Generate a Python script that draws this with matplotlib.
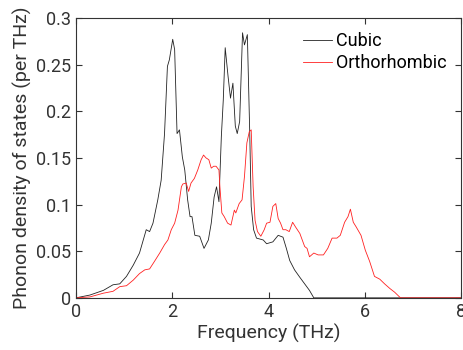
import numpy as np
import matplotlib

matplotlib.use("Agg")
import matplotlib.pyplot as plt

plt.rcParams["font.family"] = ["Roboto", "DejaVu Sans"]

# phonon DOS (THz, per THz)
cubic_freq = [0.0, 0.29, 0.57, 0.77, 0.91, 1.05, 1.19, 1.32, 1.46, 1.53, 1.60, 1.70,
              1.77, 1.84, 1.90, 1.94, 2.01, 2.05, 2.10, 2.15, 2.21, 2.26, 2.32, 2.37,
              2.41, 2.47, 2.57, 2.66, 2.75, 2.81, 2.87, 2.92, 2.97, 3.02, 3.06, 3.10,
              3.16, 3.21, 3.26, 3.31, 3.35, 3.40, 3.46, 3.50, 3.56, 3.61, 3.64, 3.69,
              3.75, 3.89, 3.96, 4.09, 4.20, 4.30, 4.37, 4.44, 4.54, 4.65, 4.75, 4.85,
              4.94, 8.0]
cubic_dos = [0.0, 0.003, 0.008, 0.014, 0.015, 0.023, 0.035, 0.048, 0.073, 0.071, 0.080, 0.105,
             0.126, 0.176, 0.248, 0.255, 0.277, 0.266, 0.176, 0.180, 0.151, 0.137, 0.105, 0.087,
             0.087, 0.067, 0.066, 0.053, 0.062, 0.080, 0.108, 0.119, 0.103, 0.173, 0.212, 0.268,
             0.237, 0.214, 0.230, 0.184, 0.176, 0.189, 0.284, 0.271, 0.282, 0.176, 0.098, 0.073,
             0.064, 0.062, 0.058, 0.060, 0.067, 0.065, 0.053, 0.040, 0.030, 0.022, 0.015, 0.008,
             0.0, 0.0]

ortho_freq = [0.0, 0.29, 0.57, 0.77, 0.91, 1.05, 1.19, 1.32, 1.43, 1.53, 1.63, 1.74,
              1.84, 1.91, 1.98, 2.05, 2.12, 2.19, 2.22, 2.29, 2.34, 2.39, 2.46, 2.53,
              2.60, 2.65, 2.70, 2.76, 2.81, 2.86, 2.91, 2.97, 2.99, 3.03, 3.08, 3.15,
              3.22, 3.29, 3.32, 3.39, 3.45, 3.50, 3.55, 3.60, 3.64, 3.68, 3.72, 3.77,
              3.84, 3.91, 3.96, 4.03, 4.09, 4.15, 4.20, 4.25, 4.30, 4.36, 4.43, 4.50,
              4.56, 4.65, 4.75, 4.80, 4.85, 4.94, 5.03, 5.14, 5.23, 5.32, 5.42, 5.49,
              5.58, 5.65, 5.70, 5.76, 5.82, 5.92, 6.01, 6.10, 6.20, 6.31, 6.41, 6.52,
              6.62, 6.74, 8.0]
ortho_dos = [0.0, 0.001, 0.005, 0.007, 0.012, 0.013, 0.019, 0.026, 0.030, 0.031, 0.039, 0.048,
             0.057, 0.062, 0.073, 0.080, 0.094, 0.119, 0.122, 0.123, 0.114, 0.123, 0.128, 0.137,
             0.148, 0.153, 0.150, 0.148, 0.139, 0.141, 0.141, 0.137, 0.119, 0.091, 0.087, 0.080,
             0.078, 0.094, 0.091, 0.101, 0.105, 0.130, 0.166, 0.178, 0.180, 0.119, 0.083, 0.071,
             0.066, 0.073, 0.080, 0.081, 0.098, 0.101, 0.085, 0.080, 0.073, 0.073, 0.071, 0.081,
             0.076, 0.069, 0.055, 0.053, 0.044, 0.048, 0.046, 0.046, 0.053, 0.064, 0.064, 0.067,
             0.081, 0.087, 0.095, 0.081, 0.076, 0.067, 0.051, 0.039, 0.023, 0.020, 0.015, 0.010,
             0.006, 0.0, 0.0]

x_ticks = [0, 2, 4, 6, 8]
y_ticks = [0, 0.05, 0.1, 0.15, 0.2, 0.25, 0.3]
y_tick_labels = ["0", "0.05", "0.1", "0.15", "0.2", "0.25", "0.3"]

fig = plt.figure(figsize=(4.63, 3.5), dpi=100)
ax = fig.add_axes([0.164, 0.149, 0.832, 0.800])

ax.plot(cubic_freq, cubic_dos, color="#222222", lw=0.6, label="Cubic")
ax.plot(ortho_freq, ortho_dos, color="#ff2020", lw=0.6, label="Orthorhombic")

ax.set_xlim(0, 8)
ax.set_ylim(0, 0.3)
ax.set_xticks(x_ticks)
ax.set_yticks(y_ticks)
ax.set_yticklabels(y_tick_labels)
ax.tick_params(direction="in", top=True, right=True, labelsize=13, colors="#333333",
               length=4, width=0.8)
for s in ax.spines.values():
    s.set_color("#333333")
    s.set_linewidth(0.8)

ax.set_xlabel("Frequency (THz)", fontsize=14, color="#333333", labelpad=2)
ax.set_ylabel("Phonon density of states (per THz)", fontsize=14, color="#333333", labelpad=3)

leg = ax.legend(loc="upper right", frameon=False, fontsize=13, handlelength=1.6,
                handletextpad=0.2, borderaxespad=0.3, labelspacing=0.25,
                bbox_to_anchor=(0.995, 0.995))
for t in leg.get_texts():
    t.set_color("black")

fig.savefig("out.png", dpi=100)
